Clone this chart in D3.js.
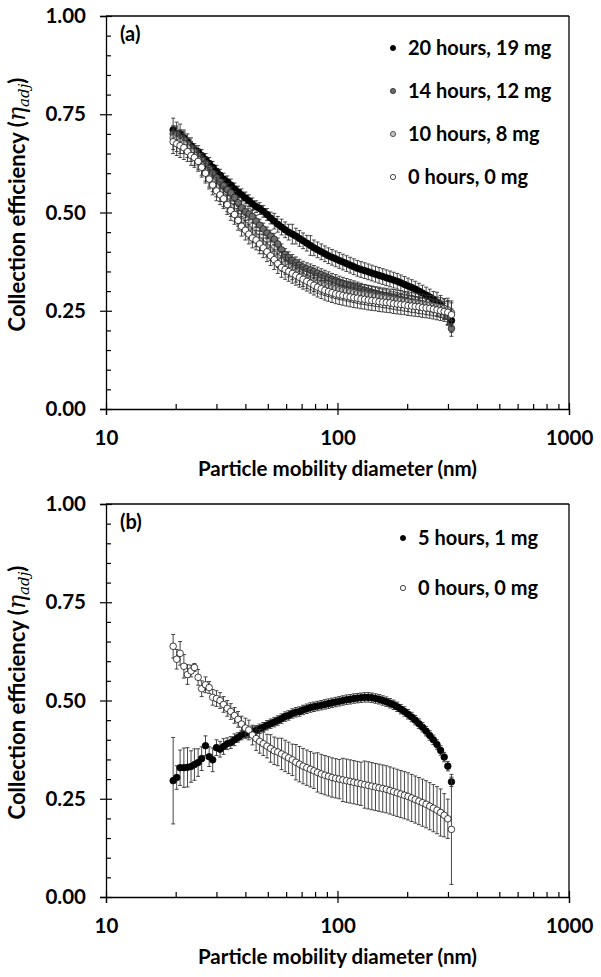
<!DOCTYPE html>
<html><head><meta charset="utf-8">
<script src="https://cdn.jsdelivr.net/npm/d3@7/dist/d3.min.js"></script>
<style>body{margin:0;background:#fff}svg{display:block}</style>
</head><body>
<svg id="c" width="601" height="977"></svg>
<script>
// ---- data ----
const diam = [19.5,20.2,20.9,21.7,22.5,23.3,24.1,25.0,25.9,26.9,27.9,28.9,30.0,31.1,32.2,33.4,34.6,35.9,37.2,38.5,
40.0,41.4,42.9,44.5,46.1,47.8,49.6,51.4,53.3,55.2,57.3,59.4,61.5,63.8,66.1,68.5,71.0,73.7,76.4,79.1,
82.0,85.1,88.2,91.4,94.7,98.2,101.8,105.5,109.4,113.4,117.6,121.9,126.3,131.0,135.8,140.7,145.9,151.2,156.8,162.5,
168.5,174.7,181.1,187.7,194.6,201.7,209.1,216.7,224.7,232.9,241.4,250.3,259.5,269.0,278.8,289.0,299.6,310.6];

const a20h = [0.71,0.70,0.70,0.69,0.68,0.67,0.66,0.655,0.645,0.635,0.625,0.615,
0.605,0.595,0.585,0.578,0.570,0.560,0.552,0.545,
0.537,0.530,0.522,0.515,0.510,0.503,0.495,0.486,0.478,0.470,
0.463,0.456,0.450,0.445,0.440,0.434,0.428,0.422,0.416,0.410,
0.405,0.400,0.395,0.390,0.386,0.382,0.378,0.374,0.370,0.366,
0.362,0.358,0.355,0.352,0.349,0.346,0.343,0.340,0.337,0.334,
0.331,0.328,0.325,0.321,0.317,0.313,0.309,0.305,0.300,0.295,
0.290,0.285,0.279,0.272,0.264,0.255,0.243,0.225];
const a14h = [0.70,0.70,0.69,0.685,0.675,0.665,0.655,0.645,0.635,0.625,0.612,0.600,
0.588,0.578,0.568,0.558,0.550,0.538,0.525,0.512,
0.502,0.496,0.490,0.478,0.468,0.458,0.448,0.440,0.432,0.420,
0.405,0.393,0.385,0.378,0.372,0.366,0.361,0.357,0.354,0.350,
0.346,0.342,0.338,0.334,0.330,0.327,0.323,0.320,0.317,0.314,
0.311,0.308,0.305,0.302,0.300,0.297,0.295,0.292,0.290,0.288,
0.285,0.283,0.281,0.279,0.277,0.275,0.273,0.271,0.269,0.267,
0.265,0.263,0.260,0.257,0.254,0.248,0.235,0.205];
const a10h = [0.69,0.685,0.68,0.675,0.665,0.655,0.645,0.635,0.62,0.605,0.59,0.578,
0.565,0.553,0.54,0.527,0.515,0.503,0.49,0.478,
0.468,0.458,0.448,0.438,0.428,0.420,0.412,0.403,0.394,0.385,
0.376,0.368,0.361,0.354,0.348,0.342,0.337,0.332,0.328,0.324,
0.320,0.317,0.314,0.311,0.308,0.306,0.304,0.302,0.300,0.298,
0.296,0.294,0.292,0.291,0.289,0.288,0.286,0.285,0.283,0.282,
0.280,0.279,0.277,0.276,0.274,0.273,0.271,0.270,0.268,0.267,
0.265,0.264,0.262,0.260,0.258,0.256,0.252,0.245];
const a0h = [0.68,0.675,0.67,0.665,0.655,0.645,0.64,0.63,0.615,0.60,0.585,0.57,
0.555,0.545,0.535,0.52,0.505,0.495,0.48,0.465,
0.455,0.445,0.435,0.43,0.42,0.41,0.40,0.39,0.38,0.37,
0.36,0.355,0.35,0.345,0.34,0.335,0.33,0.325,0.32,0.315,
0.31,0.306,0.302,0.299,0.296,0.293,0.291,0.289,0.287,0.285,
0.283,0.282,0.280,0.279,0.277,0.276,0.275,0.273,0.272,0.271,
0.270,0.268,0.267,0.266,0.265,0.263,0.262,0.261,0.260,0.258,
0.257,0.256,0.254,0.252,0.250,0.248,0.246,0.240];

const aErr20 = [0.03,0.03,0.025,0.02,0.02,0.02,0.015,0.015,0.015,0.015,0.015,0.015,
0.015,0.015,0.015,0.015,0.015,0.015,0.015,0.015,
0.015,0.015,0.015,0.015,0.015,0.015,0.015,0.015,0.02,0.02,
0.02,0.02,0.02,0.025,0.02,0.02,0.02,0.02,0.025,0.02,
0.02,0.02,0.02,0.02,0.02,0.02,0.02,0.02,0.02,0.02,
0.02,0.02,0.02,0.02,0.02,0.02,0.02,0.02,0.02,0.02,
0.02,0.02,0.02,0.02,0.02,0.02,0.02,0.02,0.02,0.02,
0.02,0.02,0.02,0.025,0.025,0.025,0.03,0.03];
const aErr14 = [0.02,0.02,0.02,0.02,0.015,0.015,0.015,0.015,0.015,0.015,0.015,0.015,
0.015,0.015,0.015,0.015,0.015,0.015,0.015,0.015,
0.015,0.015,0.015,0.015,0.015,0.015,0.015,0.015,0.015,0.015,
0.015,0.015,0.015,0.015,0.015,0.015,0.015,0.015,0.015,0.015,
0.015,0.015,0.015,0.015,0.015,0.015,0.015,0.015,0.015,0.015,
0.015,0.015,0.015,0.015,0.015,0.015,0.015,0.015,0.015,0.015,
0.015,0.015,0.015,0.015,0.015,0.015,0.015,0.015,0.015,0.015,
0.015,0.015,0.015,0.02,0.02,0.02,0.02,0.02];
const aErr10 = [0.03,0.03,0.03,0.025,0.025,0.025,0.025,0.025,0.025,0.025,0.025,0.025,
0.025,0.025,0.025,0.025,0.025,0.025,0.025,0.025,
0.025,0.025,0.025,0.025,0.025,0.025,0.025,0.025,0.025,0.025,
0.025,0.025,0.025,0.025,0.025,0.025,0.025,0.025,0.025,0.025,
0.025,0.025,0.025,0.025,0.025,0.025,0.025,0.025,0.025,0.025,
0.025,0.025,0.025,0.025,0.025,0.025,0.025,0.025,0.025,0.025,
0.025,0.025,0.025,0.025,0.025,0.025,0.025,0.025,0.025,0.025,
0.025,0.025,0.025,0.025,0.025,0.025,0.03,0.03];
const aErr0 = [0.03,0.03,0.03,0.03,0.025,0.025,0.025,0.025,0.025,0.025,0.025,0.025,
0.025,0.025,0.025,0.025,0.025,0.025,0.025,0.025,
0.025,0.025,0.025,0.025,0.025,0.025,0.025,0.025,0.025,0.025,
0.025,0.025,0.025,0.025,0.025,0.025,0.025,0.025,0.025,0.025,
0.025,0.025,0.025,0.025,0.025,0.025,0.025,0.025,0.025,0.025,
0.025,0.025,0.025,0.025,0.025,0.025,0.025,0.025,0.025,0.025,
0.025,0.025,0.025,0.025,0.025,0.025,0.025,0.025,0.025,0.025,
0.025,0.025,0.025,0.025,0.025,0.025,0.03,0.03];

const b5h = [0.296,0.304,0.329,0.329,0.330,0.332,0.337,0.342,0.352,0.385,0.357,0.349,
0.380,0.376,0.383,0.390,0.393,0.400,0.406,0.412,
0.416,0.418,0.421,0.424,0.428,0.432,0.437,0.441,0.445,0.449,
0.454,0.459,0.462,0.467,0.470,0.472,0.476,0.479,0.482,0.484,
0.486,0.488,0.490,0.492,0.494,0.496,0.498,0.500,0.502,0.503,
0.505,0.506,0.507,0.508,0.508,0.507,0.505,0.503,0.500,0.497,
0.493,0.489,0.484,0.478,0.472,0.465,0.458,0.450,0.441,0.432,
0.422,0.411,0.400,0.388,0.373,0.356,0.333,0.293];
const b0h = [0.638,0.605,0.620,0.587,0.566,0.575,0.584,0.559,0.530,0.540,0.533,0.508,
0.505,0.500,0.490,0.480,0.472,0.462,0.452,0.440,
0.430,0.425,0.412,0.403,0.396,0.390,0.384,0.378,0.372,0.369,
0.364,0.359,0.354,0.349,0.343,0.338,0.333,0.329,0.325,0.321,
0.317,0.313,0.310,0.307,0.304,0.302,0.300,0.298,0.296,0.294,
0.292,0.290,0.288,0.286,0.284,0.282,0.280,0.278,0.276,0.274,
0.271,0.268,0.265,0.262,0.259,0.256,0.252,0.248,0.244,0.240,
0.236,0.231,0.226,0.221,0.215,0.208,0.199,0.172];
const bErr5 = [0.11,0.03,0.045,0.05,0.05,0.04,0.04,0.035,0.03,0.025,0.025,0.03,
0.02,0.02,0.02,0.015,0.015,0.015,0.012,0.012,
0.012,0.012,0.012,0.012,0.012,0.012,0.012,0.012,0.012,0.012,
0.012,0.012,0.012,0.012,0.012,0.012,0.012,0.012,0.012,0.012,
0.012,0.012,0.012,0.012,0.012,0.012,0.012,0.012,0.012,0.012,
0.012,0.012,0.012,0.012,0.012,0.012,0.012,0.012,0.012,0.012,
0.012,0.012,0.012,0.012,0.012,0.012,0.012,0.012,0.012,0.012,
0.012,0.012,0.012,0.012,0.012,0.012,0.012,0.012];
const bErr0 = [0.03,0.025,0.03,0.03,0.025,0.015,0.01,0.02,0.02,0.02,0.015,0.02,
0.02,0.02,0.02,0.02,0.02,0.02,0.02,0.02,
0.025,0.025,0.025,0.03,0.03,0.03,0.03,0.035,0.035,0.035,
0.04,0.04,0.04,0.04,0.045,0.045,0.045,0.045,0.045,0.045,
0.05,0.05,0.05,0.05,0.05,0.05,0.05,0.055,0.055,0.055,
0.055,0.055,0.055,0.06,0.06,0.06,0.06,0.06,0.06,0.06,
0.06,0.06,0.06,0.06,0.06,0.06,0.06,0.06,0.06,0.06,
0.06,0.06,0.06,0.06,0.06,0.055,0.05,0.14];

const yTicks = [0, 0.25, 0.5, 0.75, 1];
const yMinor = [0.05,0.1,0.15,0.2,0.3,0.35,0.4,0.45,0.55,0.6,0.65,0.7,0.8,0.85,0.9,0.95];
const xTicks = [10, 100, 1000];
const xMinor = [20,30,40,50,60,70,80,90,200,300,400,500,600,700,800,900];
const legendA = ["20 hours, 19 mg","14 hours, 12 mg","10 hours, 8 mg","0 hours, 0 mg"];
const legendB = ["5 hours, 1 mg","0 hours, 0 mg"];
const xTitle = "Particle mobility diameter (nm)";

// ---- drawing ----
const svg = d3.select("#c");
const FONT = "Lato, 'Open Sans', sans-serif";
const styles = {
  black: {fill:"#000", stroke:"#000"},
  dark: {fill:"#6e6e6e", stroke:"#222"},
  light: {fill:"#c4c4c4", stroke:"#333"},
  white: {fill:"#fff", stroke:"#111"}
};

function panel(top, label, series, legend, legendX, legendY0, legendDy) {
  const L = 106, R = 569, T = top, B = top + 393;
  const x = d3.scaleLog().domain([10, 1000]).range([L, R]);
  const y = d3.scaleLinear().domain([0, 1]).range([B, T]);
  const g = svg.append("g");

  g.append("line").attr("x1", L).attr("x2", R).attr("y1", T).attr("y2", T).attr("stroke", "#000").attr("stroke-width", 1.3);
  g.append("line").attr("x1", R).attr("x2", R).attr("y1", T).attr("y2", B).attr("stroke", "#000").attr("stroke-width", 1.3);

  const ya = g.append("g").attr("transform", `translate(${L},0)`)
    .call(d3.axisLeft(y).tickValues(yTicks).tickFormat(d3.format(".2f")).tickSize(6).tickPadding(14));
  ya.selectAll(".tick line").attr("x1", 6).attr("x2", -6);
  g.append("g").attr("transform", `translate(${L},0)`)
    .call(d3.axisRight(y).tickValues(yMinor).tickSize(5).tickFormat(""))
    .select(".domain").remove();

  const xa = g.append("g").attr("transform", `translate(0,${B})`)
    .call(d3.axisBottom(x).tickValues(xTicks).tickFormat(d3.format("d")).tickSize(6).tickPadding(15));
  xa.selectAll(".tick line").attr("y1", -6).attr("y2", 6);
  g.append("g").attr("transform", `translate(0,${B})`)
    .call(d3.axisTop(x).tickValues(xMinor).tickSize(5).tickFormat(""))
    .select(".domain").remove();

  g.selectAll(".domain").attr("stroke", "#000").attr("stroke-width", 1.3);
  g.selectAll(".tick line").attr("stroke", "#000").attr("stroke-width", 1.2);
  g.selectAll(".tick text").attr("font-family", FONT).attr("font-weight", "bold")
    .attr("font-size", 20.5).attr("fill", "#000");

  g.append("text").attr("x", x(100)).attr("y", B + 67).attr("text-anchor", "middle")
    .attr("font-family", FONT).attr("font-weight", "bold").attr("font-size", 20.5).text(xTitle);
  const yt = g.append("text").attr("transform", `translate(25,${(T + B) / 2 - 8}) rotate(-90)`)
    .attr("text-anchor", "middle").attr("font-family", FONT).attr("font-weight", "bold").attr("font-size", 22);
  yt.append("tspan").text("Collection efficiency (");
  yt.append("tspan").attr("font-family", "'DejaVu Serif', serif").attr("font-style", "italic").attr("font-weight", "normal")
    .attr("font-size", 24).text("η");
  yt.append("tspan").attr("font-family", "'DejaVu Serif', serif").attr("font-style", "italic").attr("font-weight", "normal")
    .attr("font-size", 15).attr("dy", 4).text("adj");
  yt.append("tspan").attr("dy", -4).text(")");

  g.append("text").attr("x", 120).attr("y", T + 25).attr("font-family", FONT).attr("font-weight", "bold")
    .attr("font-size", 20).text(label);

  series.forEach(s => {
    const pts = diam.map((d, i) => ({d, v: s.vals[i], e: s.err[i]}));
    const sg = g.append("g");
    const eb = sg.append("g").attr("stroke", "#333").attr("stroke-width", 0.9);
    eb.selectAll("line.v").data(pts).join("line").attr("class", "v")
      .attr("x1", p => x(p.d)).attr("x2", p => x(p.d))
      .attr("y1", p => y(p.v - p.e)).attr("y2", p => y(p.v + p.e));
    eb.selectAll("line.t").data(pts).join("line").attr("class", "t")
      .attr("x1", p => x(p.d) - 2).attr("x2", p => x(p.d) + 2)
      .attr("y1", p => y(p.v + p.e)).attr("y2", p => y(p.v + p.e));
    eb.selectAll("line.b").data(pts).join("line").attr("class", "b")
      .attr("x1", p => x(p.d) - 2).attr("x2", p => x(p.d) + 2)
      .attr("y1", p => y(p.v - p.e)).attr("y2", p => y(p.v - p.e));
    sg.selectAll("circle").data(pts).join("circle")
      .attr("cx", p => x(p.d)).attr("cy", p => y(p.v)).attr("r", 3.3)
      .attr("fill", styles[s.style].fill).attr("stroke", styles[s.style].stroke).attr("stroke-width", 0.8);
  });

  legend.forEach((t, i) => {
    const st = styles[series[i].style];
    const ly = legendY0 + i * legendDy;
    g.append("circle").attr("cx", legendX).attr("cy", ly).attr("r", 2.6)
      .attr("fill", st.fill).attr("stroke", st.stroke).attr("stroke-width", 0.8);
    g.append("text").attr("x", legendX + 15).attr("y", ly + 7).attr("font-family", FONT)
      .attr("font-weight", "bold").attr("font-size", 20).text(t);
  });
}

panel(16, "(a)", [
  {vals: a20h, err: aErr20, style: "black"},
  {vals: a14h, err: aErr14, style: "dark"},
  {vals: a10h, err: aErr10, style: "light"},
  {vals: a0h, err: aErr0, style: "white"}
], legendA, 393, 48, 43);

panel(504, "(b)", [
  {vals: b5h, err: bErr5, style: "black"},
  {vals: b0h, err: bErr0, style: "white"}
], legendB, 403, 538, 50);
</script>
</body></html>
